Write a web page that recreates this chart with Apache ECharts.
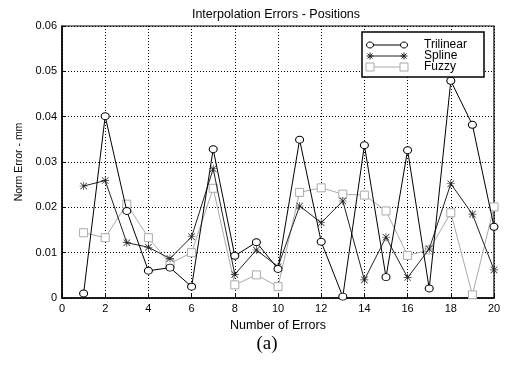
<!DOCTYPE html>
<html>
<head>
<meta charset="utf-8">
<script src="https://cdn.jsdelivr.net/npm/echarts@6/dist/echarts.min.js"></script>
<style>html,body{margin:0;padding:0;background:#fff;}#c{width:505px;height:367px;}</style>
</head>
<body>
<div id="c"></div>
<script>
var errorCounts = [1,2,3,4,5,6,7,8,9,10,11,12,13,14,15,16,17,18,19,20];
var trilinear = [0.0010,0.0401,0.0192,0.0060,0.0067,0.0025,0.0328,0.0093,0.0123,0.0064,0.0349,0.0124,0.0003,0.0337,0.0046,0.0326,0.0021,0.0479,0.0382,0.0157];
var spline    = [0.0247,0.0259,0.0122,0.0112,0.0087,0.0135,0.0285,0.0052,0.0106,0.0069,0.0203,0.0166,0.0214,0.0040,0.0134,0.0045,0.0108,0.0252,0.0185,0.0062];
var fuzzy     = [0.0144,0.0133,0.0207,0.0133,0.0076,0.0100,0.0242,0.0029,0.0051,0.0025,0.0233,0.0243,0.0229,0.0227,0.0192,0.0094,0.0106,0.0188,0.0007,0.0201];
var seriesNames = ['Trilinear','Spline','Fuzzy'];
var xTicks = [0,2,4,6,8,10,12,14,16,18,20];
var yTicks = [0,0.01,0.02,0.03,0.04,0.05,0.06];

function pairs(vals){ return vals.map(function(v,i){ return [errorCounts[i], v]; }); }

var star = 'path://M4.6,0L5.4,0L5.4,10L4.6,10Z M0,4.6L10,4.6L10,5.4L0,5.4Z M1.2,0.6L9.4,8.8L8.8,9.4L0.6,1.2Z M8.8,0.6L9.4,1.2L1.2,9.4L0.6,8.8Z';
var font = 'Liberation Sans, Arial, sans-serif';

var chart = echarts.init(document.getElementById('c'), null, {renderer:'canvas'});
var legendX = 370, legendX2 = 404, legendTextX = 424, legendY = [45, 56, 67];

function asterisk(cx, cy, r, color){
  var d = r * 0.72;
  var segs = [[cx-r,cy,cx+r,cy],[cx,cy-r,cx,cy+r],[cx-d,cy-d,cx+d,cy+d],[cx-d,cy+d,cx+d,cy-d]];
  return segs.map(function(s){
    return {type: 'line', z: 12, shape: {x1: s[0], y1: s[1], x2: s[2], y2: s[3]}, style: {stroke: color, lineWidth: 1}};
  });
}

var graphics = [
  {type: 'text', x: 276, y: 15, style: {text: 'Interpolation Errors - Positions', fontFamily: font, fontSize: 12.5, fill: '#000', align: 'center', verticalAlign: 'middle'}},
  {type: 'text', x: 267, y: 344, style: {text: '(a)', fontFamily: 'Liberation Serif, Times New Roman, serif', fontSize: 19, fill: '#000', align: 'center', verticalAlign: 'middle'}},
  {type: 'rect', z: 10, shape: {x: 362, y: 32, width: 122, height: 45}, style: {fill: '#fff', stroke: '#000', lineWidth: 1.5}},
  {type: 'line', z: 11, shape: {x1: legendX, y1: legendY[0], x2: legendX2, y2: legendY[0]}, style: {stroke: '#000', lineWidth: 1}},
  {type: 'ellipse', z: 12, shape: {cx: legendX, cy: legendY[0], rx: 3.5, ry: 3}, style: {fill: '#fff', stroke: '#000', lineWidth: 1}},
  {type: 'ellipse', z: 12, shape: {cx: legendX2, cy: legendY[0], rx: 3.5, ry: 3}, style: {fill: '#fff', stroke: '#000', lineWidth: 1}},
  {type: 'line', z: 11, shape: {x1: legendX, y1: legendY[1], x2: legendX2, y2: legendY[1]}, style: {stroke: '#222', lineWidth: 1}},
  {type: 'line', z: 11, shape: {x1: legendX, y1: legendY[2], x2: legendX2, y2: legendY[2]}, style: {stroke: '#aaa', lineWidth: 1}},
  {type: 'rect', z: 12, shape: {x: legendX-4, y: legendY[2]-4, width: 8, height: 8}, style: {fill: '#fff', stroke: '#aaa', lineWidth: 1}},
  {type: 'rect', z: 12, shape: {x: legendX2-4, y: legendY[2]-4, width: 8, height: 8}, style: {fill: '#fff', stroke: '#aaa', lineWidth: 1}},
  {type: 'text', z: 12, x: legendTextX, y: legendY[0], style: {text: seriesNames[0], fontFamily: font, fontSize: 12, fill: '#000', verticalAlign: 'middle'}},
  {type: 'text', z: 12, x: legendTextX, y: legendY[1], style: {text: seriesNames[1], fontFamily: font, fontSize: 12, fill: '#000', verticalAlign: 'middle'}},
  {type: 'text', z: 12, x: legendTextX, y: legendY[2], style: {text: seriesNames[2], fontFamily: font, fontSize: 12, fill: '#000', verticalAlign: 'middle'}}
].concat(asterisk(legendX, legendY[1], 3.5, '#222'), asterisk(legendX2, legendY[1], 3.5, '#222'));

var option = {
  animation: false,
  backgroundColor: '#fff',
  grid: {left: 62, right: 11, top: 26, bottom: 69, show: true, borderColor: '#000', borderWidth: 1.2, backgroundColor: 'transparent'},
  xAxis: {
    type: 'value', min: xTicks[0], max: xTicks[xTicks.length-1], interval: 2,
    name: 'Number of Errors', nameLocation: 'middle', nameGap: 16,
    nameTextStyle: {fontFamily: font, fontSize: 12.5, color: '#000'},
    axisLine: {show: true, onZero: false, lineStyle: {color: '#000', width: 1.5}},
    axisTick: {show: true, inside: true, length: 4, lineStyle: {color: '#000'}},
    axisLabel: {fontFamily: font, fontSize: 11, color: '#000', margin: 5},
    splitLine: {show: true, lineStyle: {color: '#000', type: [1,2], width: 1}}
  },
  yAxis: {
    type: 'value', min: yTicks[0], max: yTicks[yTicks.length-1], interval: 0.01,
    name: 'Norm Error - mm', nameLocation: 'middle', nameGap: 37,
    nameTextStyle: {fontFamily: font, fontSize: 10.5, color: '#000'},
    axisLine: {show: true, lineStyle: {color: '#000', width: 1.5}},
    axisTick: {show: true, inside: true, length: 4, lineStyle: {color: '#000'}},
    axisLabel: {fontFamily: font, fontSize: 11, color: '#000', margin: 5,
      formatter: function(v){ return v === 0 ? '0' : v.toFixed(2); }},
    splitLine: {show: true, lineStyle: {color: '#000', type: [1,2], width: 1}}
  },
  series: [
    {name: seriesNames[0], type: 'line', data: pairs(trilinear), symbol: 'circle', symbolSize: [8,7],
     itemStyle: {color: '#fff', borderColor: '#000', borderWidth: 1}, lineStyle: {color: '#000', width: 1}, z: 4},
    {name: seriesNames[1], type: 'line', data: pairs(spline), symbol: star, symbolSize: 8,
     itemStyle: {color: '#222', borderWidth: 0}, lineStyle: {color: '#222', width: 1}, z: 3},
    {name: seriesNames[2], type: 'line', data: pairs(fuzzy), symbol: 'rect', symbolSize: 8,
     itemStyle: {color: '#fff', borderColor: '#aaa', borderWidth: 1}, lineStyle: {color: '#aaa', width: 1}, z: 2}
  ],
  graphic: graphics
};
chart.setOption(option);
</script>
</body>
</html>
